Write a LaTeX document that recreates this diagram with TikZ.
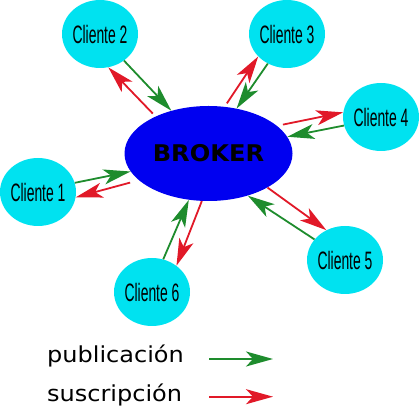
\documentclass[tikz,border=0pt]{standalone}
\usepackage{graphicx}
\usepackage{fontspec}
\setmainfont{Liberation Sans}
\newfontfamily\djv{DejaVu Sans}
\usetikzlibrary{shapes.geometric,arrows.meta}
\definecolor{cli}{RGB}{0,226,240}
\definecolor{brk}{RGB}{0,0,240}
\definecolor{pubc}{RGB}{30,140,45}
\definecolor{subc}{RGB}{225,25,40}
\newcommand\cltext[1]{\scalebox{0.58}[1.05]{\fontsize{24}{24}\selectfont Cliente #1}}
\begin{document}
\begin{tikzpicture}[x=1pt,y=1pt,
  client/.style={ellipse,fill=cli,minimum width=76pt,minimum height=68pt,inner sep=-4pt},
  brokerbox/.style={ellipse,fill=brk,minimum width=168pt,minimum height=95pt,inner sep=0pt},
  tip/.style={-{Stealth[length=27pt,width=15pt,inset=7pt]}},
  pub/.style={draw=pubc,line width=1.8pt,tip},
  sub/.style={draw=subc,line width=1.8pt,tip},
  legtext/.style={anchor=base west,inner sep=0pt,font=\djv\fontsize{22}{22}\selectfont}
]
\useasboundingbox (0,0) rectangle (419,406);
\node[brokerbox] (broker) at (208.5,252.5) {\djv\bfseries\fontsize{23}{23}\selectfont\scalebox{1.05}[1]{BROKER}};
\node[client] (c1) at (38,214) {\cltext{1}};
\node[client] (c2) at (100,372) {\cltext{2}};
\node[client] (c3) at (287,372) {\cltext{3}};
\node[client] (c4) at (381,289) {\cltext{4}};
\node[client] (c5) at (345,146) {\cltext{5}};
\node[client] (c6) at (152,114) {\cltext{6}};
% Cliente 2
\draw[sub,shorten <=4pt] (broker.145) -- (c2.284);
\draw[pub] (c2.312) -- (broker.131);
% Cliente 3
\draw[sub,shorten <=4pt] (broker.71) -- (c3.218);
\draw[pub] (c3.237) -- (broker.58);
% Cliente 4
\draw[sub,shorten <=6pt] (broker.22) -- (c4.173);
\draw[pub] (c4.193) -- (broker.12);
% Cliente 1
\draw[pub] (c1.14) -- (broker.193);
\draw[sub,shorten <=9pt] (broker.201) -- (c1.352);
% Cliente 6
\draw[pub] (c6.71) -- (broker.247);
\draw[sub] (broker.262) -- (c6.47);
% Cliente 5
\draw[sub] (broker.330) -- (c5.122);
\draw[pub] (c5.146) -- (broker.313);
% Legend
\node[legtext] (lp) at (47,44) {\scalebox{1.09}[1]{publicación}};
\node[legtext] (ls) at (47,5) {\scalebox{1.09}[1]{suscripción}};
\coordinate (pa) at (209,47);
\coordinate (pb) at (273,47);
\coordinate (sa) at (209,9.3);
\coordinate (sb) at (273,9.3);
\draw[pub] (pa) -- (pb);
\draw[sub] (sa) -- (sb);
\end{tikzpicture}
\end{document}
